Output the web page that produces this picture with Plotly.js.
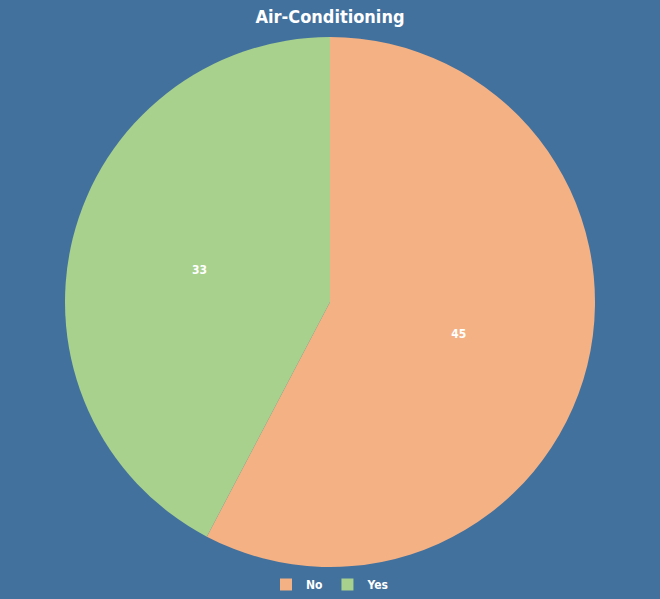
<!DOCTYPE html>
<html>
<head>
<meta charset="utf-8">
<script src="https://cdn.plot.ly/plotly-3.0.1.min.js"></script>
<style>html,body{margin:0;padding:0;background:#43719e;}</style>
</head>
<body>
<div id="chart" style="width:660px;height:599px;"></div>
<script>
const categories = ["No", "Yes"];
const counts = [45, 33];
const sliceColors = ["#f4b183", "#a9d18e"];

const FONT = "DejaVu Sans Condensed, Liberation Sans Narrow, sans-serif";

const data = [{
  type: "pie",
  labels: categories,
  values: counts,
  sort: false,
  direction: "clockwise",
  rotation: 0,
  textinfo: "value",
  textposition: "inside",
  insidetextorientation: "horizontal",
  textfont: {color: "#ffffff", size: 12, family: FONT, weight: "bold"},
  marker: {colors: sliceColors, line: {width: 0}},
  hoverinfo: "label+value"
}];

const layout = {
  width: 660,
  height: 599,
  paper_bgcolor: "#43719e",
  plot_bgcolor: "#43719e",
  font: {family: FONT, color: "#ffffff"},
  title: {text: "Air-Conditioning", x: 0.5, xanchor: "center", y: 0.982, yanchor: "top",
          font: {size: 18, color: "#ffffff", family: FONT, weight: "bold"}},
  margin: {t: 37, b: 32, l: 10, r: 10},
  showlegend: true,
  legend: {orientation: "h", x: 0.5, xanchor: "center", yref: "container", y: 0.0, yanchor: "bottom",
           itemwidth: 30,
           font: {size: 12, color: "#ffffff", weight: "bold"}, bgcolor: "rgba(0,0,0,0)"}
};

Plotly.newPlot("chart", data, layout, {displayModeBar: false});
</script>
</body>
</html>
